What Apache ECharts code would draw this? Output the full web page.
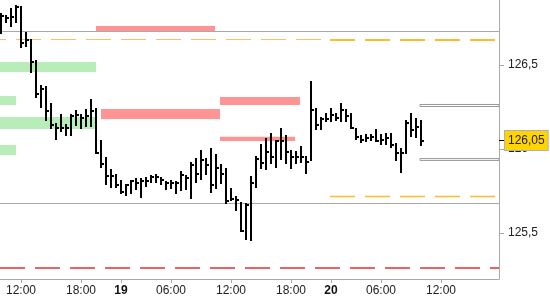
<!DOCTYPE html>
<html><head><meta charset="utf-8">
<script src="https://cdn.jsdelivr.net/npm/echarts@6/dist/echarts.min.js"></script>
<style>html,body{margin:0;padding:0;background:#fff}#c{width:550px;height:300px}</style>
</head><body><div id="c"></div>
<script>
// 30-minute bars (trading-session index), high / low / close
const HIGH = [126.808,126.798,126.838,126.857,126.851,126.696,126.657,126.530,126.381,126.375,
  126.272,126.157,126.207,126.149,126.207,126.232,126.207,126.236,126.296,126.242,
  126.054,125.954,125.881,125.851,125.815,125.790,125.815,125.826,125.826,125.835,
  125.845,125.851,125.835,125.810,125.815,125.810,125.869,125.845,125.924,125.945,
  125.994,125.945,126.004,125.970,125.911,125.885,125.766,125.720,125.686,125.677,
  125.841,125.958,126.030,126.067,126.093,126.054,126.127,126.083,125.994,125.988,
  126.018,125.958,126.407,126.246,126.189,126.213,126.242,126.213,126.272,126.236,
  126.213,126.123,126.083,126.088,126.088,126.117,126.088,126.097,126.093,126.038,
  126.004,126.173,126.213,126.183,126.173];
const LOW = [126.683,126.748,126.722,126.752,126.599,126.607,126.454,126.305,126.246,126.168,
  126.117,126.058,126.097,126.077,126.077,126.137,126.117,126.127,126.127,125.968,
  125.885,125.790,125.766,125.766,125.730,125.716,125.730,125.756,125.707,125.776,
  125.796,125.796,125.786,125.756,125.762,125.730,125.750,125.756,125.701,125.796,
  125.815,125.845,125.736,125.760,125.790,125.671,125.686,125.633,125.508,125.454,
  125.454,125.770,125.879,125.879,125.911,125.885,125.935,125.909,125.879,125.909,
  125.918,125.851,125.930,126.113,126.113,126.157,126.159,126.168,126.157,126.157,
  126.117,126.049,126.038,126.038,126.049,126.038,126.024,126.024,126.004,125.930,
  125.855,125.970,126.073,126.064,126.018];
const CLOSE = [126.792,126.778,126.788,126.847,126.633,126.649,126.520,126.326,126.355,126.228,
  126.143,126.123,126.123,126.123,126.196,126.202,126.183,126.196,126.226,125.978,
  125.909,125.839,125.841,125.786,125.746,125.786,125.810,125.796,125.810,125.810,
  125.835,125.835,125.815,125.796,125.796,125.796,125.845,125.826,125.905,125.849,
  125.935,125.905,125.786,125.885,125.851,125.692,125.701,125.696,125.514,125.667,
  125.796,125.939,125.915,125.984,125.954,126.049,126.049,125.984,125.954,125.954,
  125.954,125.921,126.232,126.143,126.177,126.179,126.202,126.185,126.232,126.196,
  126.123,126.073,126.054,126.064,126.073,126.049,126.054,126.064,126.024,125.974,
  125.974,126.153,126.113,126.133,126.05];

const X_TICKS = [4,16,24,34,46,58,66,76,88];
const X_LABELS = ['12:00','18:00','19','06:00','12:00','18:00','20','06:00','12:00'];
const X_BOLD = ['19','20'];
const Y_TICKS = [125.5, 126, 126.5];
const LAST_PRICE = 126.05;
const X_MIN = -0.2, X_MAX = 99.6;
const Y_MIN = 125.22619, Y_MAX = 126.88690;

// zones: [xStart, xEnd, priceLow, priceHigh]
const GREEN_ZONES = [[-0.2,19,126.458,126.518],[-0.2,3,126.262,126.315],[-0.2,19,126.119,126.190],[-0.2,3,125.964,126.024]];
const RED_ZONES = [[19,42.8,126.702,126.732],[20,43.8,126.179,126.238],[43.8,59.8,126.262,126.310],[43.8,58.8,126.048,126.073]];
const GRAY_BOXES = [[83.8,99.6,126.253,126.265],[83.8,99.6,125.932,125.943]];
const GRAY_LEVELS = [126.70, 125.677];
const RED_LEVEL = 125.292;
const ORANGE_TOP = 126.653, ORANGE_BOTTOM = 125.72, SESSION_SPLIT = 65.8;

const bars = HIGH.map((h,i)=>[i,h,LOW[i],CLOSE[i]]);
const fmt = v => String(v).replace('.', ',');

// zone rows: [x0, x1, pLow, pHigh, kind]  kind 0 green, 1 red, 2 gray box
const zoneRows = [];
GREEN_ZONES.forEach(z=>zoneRows.push(z.concat([0])));
RED_ZONES.forEach(z=>zoneRows.push(z.concat([1])));
GRAY_BOXES.forEach(z=>zoneRows.push(z.concat([2])));

const lines = [];
GRAY_LEVELS.forEach(p=>lines.push([{coord:[X_MIN,p],lineStyle:{color:'#aaaaaa',width:1,type:'solid'}},{coord:[X_MAX,p]}]));
lines.push([{coord:[X_MIN,RED_LEVEL],lineStyle:{color:'#e53030',width:1.6,type:[25,10]}},{coord:[X_MAX,RED_LEVEL]}]);
lines.push([{coord:[X_MIN,ORANGE_TOP],lineStyle:{color:'#f3c266',width:1.2,type:[25,10],dashOffset:19}},{coord:[SESSION_SPLIT,ORANGE_TOP]}]);
lines.push([{coord:[SESSION_SPLIT,ORANGE_TOP],lineStyle:{color:'#fbbd2e',width:2,type:[25,10]}},{coord:[X_MAX,ORANGE_TOP]}]);
lines.push([{coord:[SESSION_SPLIT,ORANGE_BOTTOM],lineStyle:{color:'#fbbd2e',width:1.3,type:[25,10]}},{coord:[X_MAX,ORANGE_BOTTOM]}]);

const chart = echarts.init(document.getElementById('c'), null, {renderer:'canvas'});
chart.setOption({
  animation:false,
  backgroundColor:'#fff',
  grid:{left:0,right:51,top:0,bottom:21,outerBoundsMode:'none',containLabel:false},
  xAxis:{
    type:'value', min:X_MIN, max:X_MAX,
    splitLine:{show:false},
    axisLine:{show:true,onZero:false,lineStyle:{color:'#aaaaaa'}},
    axisTick:{show:true,length:4,lineStyle:{color:'#aaaaaa'},customValues:X_TICKS},
    axisLabel:{
      customValues:X_TICKS, margin:6, color:'#222', fontFamily:'Liberation Sans', fontSize:12,
      formatter:function(v){
        const k = X_TICKS.indexOf(Math.round(v));
        const t = k>=0 ? X_LABELS[k] : '';
        return X_BOLD.indexOf(t)>=0 ? '{b|'+t+'}' : t;
      },
      rich:{b:{fontWeight:'bold',fontSize:12,fontFamily:'Liberation Sans',color:'#111'}}
    }
  },
  yAxis:[{
    type:'value', position:'right', min:Y_MIN, max:Y_MAX, z:2,
    splitLine:{show:false},
    axisLine:{show:true,onZero:false,lineStyle:{color:'#aaaaaa'}},
    axisTick:{show:true,length:5,lineStyle:{color:'#aaaaaa'},customValues:Y_TICKS},
    axisLabel:{
      customValues:Y_TICKS, margin:9, color:'#222', fontFamily:'Liberation Sans', fontSize:12,
      hideOverlap:false, formatter:fmt
    }
  },{
    type:'value', position:'right', offset:0, min:Y_MIN, max:Y_MAX, z:10,
    splitLine:{show:false},
    axisLine:{show:false,onZero:false},
    axisTick:{show:true,length:5,lineStyle:{color:'#000'},customValues:[LAST_PRICE]},
    axisLabel:{
      customValues:[LAST_PRICE], margin:6,
      formatter:function(v){ return '{cur|'+fmt(v)+'}'; },
      rich:{cur:{backgroundColor:'#ffd400',borderColor:'#b0b0b0',borderWidth:1,padding:[4,3,3,3],
        color:'#222',fontFamily:'Liberation Sans',fontSize:12}}
    }
  }],
  series:[
    {
      type:'custom', z:1, data:zoneRows, silent:true,
      encode:{x:[0,1], y:[2,3]},
      renderItem:function(params, api){
        const a = api.coord([api.value(0), api.value(3)]);
        const b = api.coord([api.value(1), api.value(2)]);
        const kind = api.value(4);
        const style = kind===0 ? {fill:'#b8ecb8'} : kind===1 ? {fill:'#ff9494'} : {fill:'#fff', stroke:'#999', lineWidth:1};
        return {type:'rect', shape:{x:a[0], y:a[1], width:b[0]-a[0], height:b[1]-a[1]}, style:style};
      }
    },
    {
      type:'line', z:2, data:[[X_MIN,126]], symbol:'none', lineStyle:{opacity:0}, silent:true,
      markLine:{silent:true, symbol:['none','none'], label:{show:false}, data:lines}
    },
    {
      type:'custom', z:5, data:bars,
      encode:{x:0, y:[1,2,3]},
      renderItem:function(params, api){
        const i = api.value(0);
        const h = api.coord([i, api.value(1)]);
        const l = api.coord([i, api.value(2)]);
        const c = api.coord([i, api.value(3)]);
        const x = Math.round(h[0]);
        return {type:'group', children:[
          {type:'rect', shape:{x:x-1, y:Math.round(h[1]), width:2, height:Math.max(1,Math.round(l[1]-h[1]))}, style:{fill:'#000'}},
          {type:'rect', shape:{x:x+1, y:Math.round(c[1])-1, width:2, height:2}, style:{fill:'#000'}}
        ]};
      }
    }
  ]
});
</script>
</body></html>
